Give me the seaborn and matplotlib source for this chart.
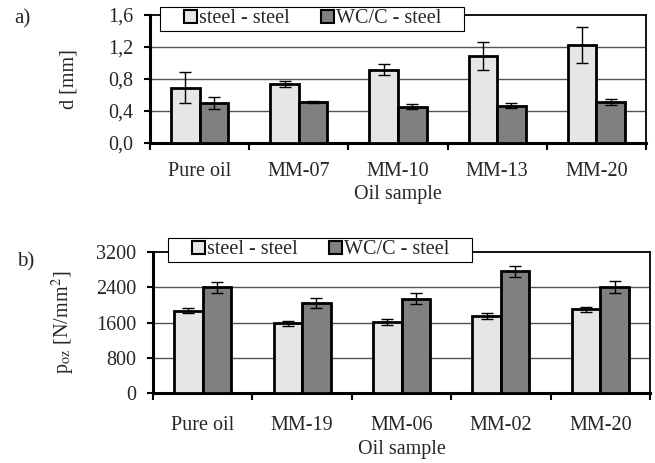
import matplotlib
matplotlib.use("Agg")
import matplotlib.pyplot as plt
from matplotlib.patches import Rectangle
from matplotlib.legend_handler import HandlerPatch
from matplotlib.ticker import FixedLocator, FuncFormatter
import seaborn as sns
import pandas as pd
import numpy as np

# data
pairs = ["steel - steel", "WC/C - steel"]

samples_a = ["Pure oil", "MM-07", "MM-10", "MM-13", "MM-20"]
d_steel = [0.69, 0.735, 0.915, 1.085, 1.225]
d_steel_err = [0.19, 0.035, 0.07, 0.17, 0.23]
d_wcc = [0.495, 0.505, 0.45, 0.46, 0.505]
d_wcc_err = [0.07, 0.015, 0.03, 0.03, 0.035]

samples_b = ["Pure oil", "MM-19", "MM-06", "MM-02", "MM-20"]
p_steel = [1870, 1580, 1610, 1755, 1895]
p_steel_err = [60, 60, 60, 65, 60]
p_wcc = [2395, 2045, 2140, 2755, 2405]
p_wcc_err = [125, 115, 125, 130, 128]

colors = ["#e6e6e6", "#808080"]

sns.set_theme(style="white")
plt.rcParams["font.family"] = ["Liberation Serif", "DejaVu Serif"]
plt.rcParams["mathtext.fontset"] = "stix"
fs = 14.5


def square_handle(legend, orig_handle, xdescent, ydescent, width, height, fontsize):
    # small square sitting at the right end of the handle box
    s = height
    return Rectangle((width - s - xdescent, -ydescent), s, s)


def long_frame(samples, v1, v2):
    return pd.DataFrame({
        "sample": samples * 2,
        "pair": [pairs[0]] * len(samples) + [pairs[1]] * len(samples),
        "value": list(v1) + list(v2),
    })


def draw_panel(ax, samples, v1, e1, v2, e2, ymax, step, fmt, ylabel, legend_anchor):
    df = long_frame(samples, v1, v2)
    sns.barplot(data=df, x="sample", y="value", hue="pair", order=samples,
                hue_order=pairs, palette=colors, width=0.575, errorbar=None,
                edgecolor="black", linewidth=2, saturation=1, ax=ax, zorder=3)
    # error bars placed on the bars seaborn drew
    errs = list(e1) + list(e2)
    vals = list(v1) + list(v2)
    xs = [p.get_x() + p.get_width() / 2 for p in ax.patches[:len(vals)]]
    ax.errorbar(xs, vals, yerr=errs, fmt="none", ecolor="black", elinewidth=1,
                capsize=4, capthick=1, zorder=4)

    n = len(samples)
    ax.set_xlim(-0.5, n - 0.5)
    ax.set_ylim(0, ymax)
    ticks = np.arange(0, ymax + step / 2, step)
    ax.yaxis.set_major_locator(FixedLocator(ticks))
    ax.yaxis.set_major_formatter(FuncFormatter(fmt))
    for t in ticks[1:-1]:
        ax.axhline(t, color="#555555", lw=1, zorder=1)

    ax.set_xticks(range(n))
    ax.set_xticklabels(samples)
    ax.set_xticks(np.arange(-0.5, n), minor=True)
    ax.tick_params(axis="x", which="major", length=0, labelsize=fs, pad=14)
    ax.tick_params(axis="x", which="minor", bottom=True, length=5, width=1.5,
                   color="black", direction="out")
    ax.tick_params(axis="y", left=True, length=4, width=1.5, color="black",
                   labelsize=fs, pad=8, direction="out")

    for s in ["left", "bottom"]:
        ax.spines[s].set_linewidth(2.2)
        ax.spines[s].set_color("black")
    for s in ["right", "top"]:
        ax.spines[s].set_linewidth(1.3)
        ax.spines[s].set_color("black")
        ax.spines[s].set_visible(True)

    ax.set_xlabel("Oil sample", fontsize=fs)
    ax.set_ylabel(ylabel, fontsize=fs)

    ax.legend_.remove()
    handles = [Rectangle((0, 0), 1, 1, facecolor=c, edgecolor="black", lw=1.5)
               for c in colors]
    labels = [pairs[0], pairs[1] + "\u00a0\u00a0\u00a0\u00a0"]
    leg = ax.figure.legend(handles, labels, loc="upper left", bbox_to_anchor=legend_anchor,
                           ncol=2, fontsize=fs, frameon=True, fancybox=False,
                           framealpha=1, edgecolor="black", borderpad=0.12,
                           handlelength=1.7, handleheight=0.62, handletextpad=0.1,
                           columnspacing=0.5, borderaxespad=0,
                           handler_map={Rectangle: HandlerPatch(patch_func=square_handle)})
    leg.get_frame().set_linewidth(0.8)
    leg.set_zorder(10)


fig = plt.figure(figsize=(6.55, 4.63), dpi=100)
W, H = 655, 463

ax_a = fig.add_axes([150 / W, 1 - 142.5 / H, 496 / W, 127.5 / H])
draw_panel(ax_a, samples_a, d_steel, d_steel_err, d_wcc, d_wcc_err, 1.6, 0.4,
           lambda v, p: f"{v:.1f}".replace(".", ","), "d [mm]",
           (160 / W, 1 - 7 / H))
ax_a.yaxis.set_label_coords(-0.145, 0.5)
ax_a.xaxis.set_label_coords(0.5, -0.335)

ax_b = fig.add_axes([153 / W, 1 - 393.3 / H, 497 / W, 141.6 / H])
draw_panel(ax_b, samples_b, p_steel, p_steel_err, p_wcc, p_wcc_err, 3200, 800,
           lambda v, p: f"{v:.0f}", r"p$_{\mathrm{oz}}$ [N/mm$^{2}$]",
           (168 / W, 1 - 238 / H))
ax_b.yaxis.set_label_coords(-0.153, 0.5)
ax_b.xaxis.set_label_coords(0.5, -0.33)
ax_b.tick_params(axis="x", which="major", pad=16)

fig.text(14 / W, 1 - 19 / H, "a)", fontsize=fs + 0.5, va="center", ha="left")
fig.text(17 / W, 1 - 262 / H, "b)", fontsize=fs + 0.5, va="center", ha="left")

fig.savefig("out.png", dpi=100)
